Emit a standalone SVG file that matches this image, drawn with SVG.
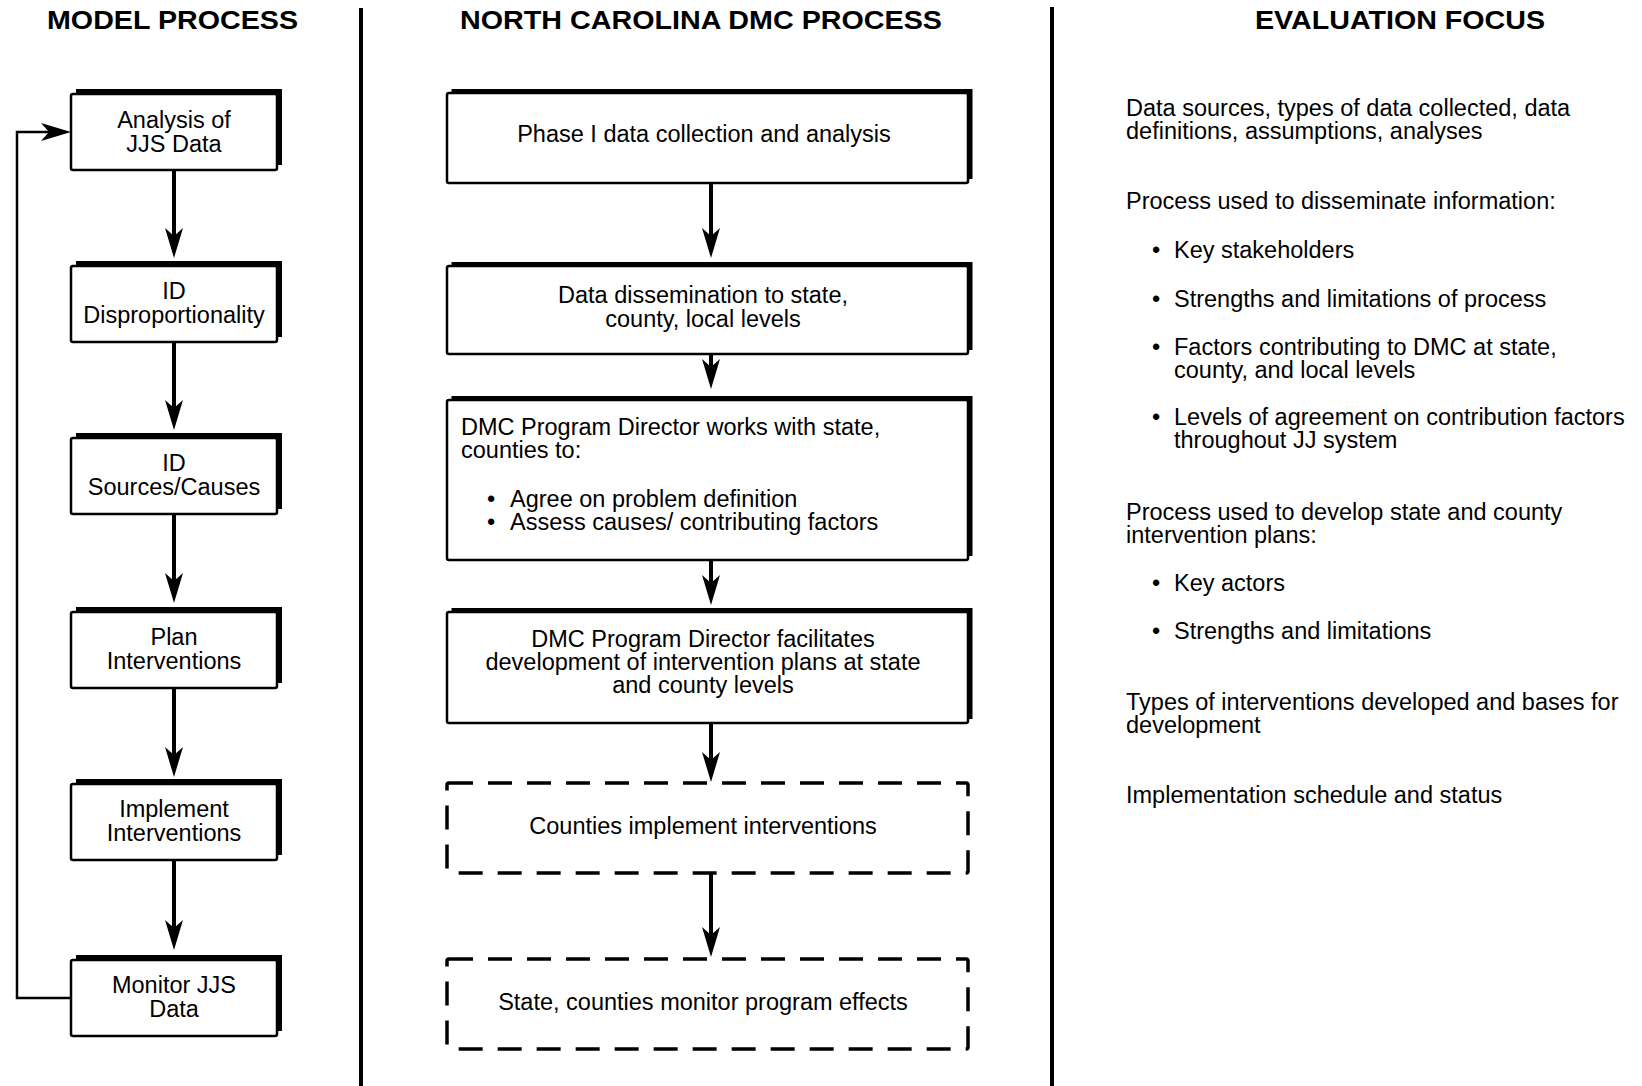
<svg xmlns="http://www.w3.org/2000/svg" width="1642" height="1086" viewBox="0 0 1642 1086">
<style>
  text { font-family: "Liberation Sans", Arial, sans-serif; fill: #000; }
  .hdr { font-size: 25px; font-weight: bold; text-anchor: middle; }
  .t { font-size: 23.5px; }
  .c { text-anchor: middle; }
  .shadow { fill: #000; }
  .box { fill: #fff; stroke: #000; stroke-width: 2.5; }
  .dash { fill: #fff; stroke: #000; stroke-width: 3.5; stroke-dasharray: 24 15; }
  .conn { stroke: #000; stroke-width: 4; fill: none; }
  .fb { stroke: #000; stroke-width: 2.5; fill: none; }
  .div { stroke: #000; stroke-width: 4; }
</style>
<defs>
  <marker id="ah" markerUnits="userSpaceOnUse" viewBox="-30 -10 40 20" markerWidth="40" markerHeight="20" refX="0" refY="0" orient="auto">
    <path d="M8,0 L-22,-9 L-14,0 L-22,9 Z" fill="#000"/>
  </marker>
</defs>
<rect width="1642" height="1086" fill="#fff"/>

<!-- headers and dividers -->
<g id="headers">
  <text class="hdr" x="172.5" y="29" textLength="251" lengthAdjust="spacingAndGlyphs">MODEL PROCESS</text>
  <text class="hdr" x="701" y="29" textLength="482" lengthAdjust="spacingAndGlyphs">NORTH CAROLINA DMC PROCESS</text>
  <text class="hdr" x="1400" y="29" textLength="290" lengthAdjust="spacingAndGlyphs">EVALUATION FOCUS</text>
</g>
<g id="dividers">
  <line class="div" x1="361" y1="8" x2="361" y2="1086"/>
  <line class="div" x1="1052" y1="7" x2="1052" y2="1086"/>
</g>

<!-- Model process column -->
<g id="m1">
  <rect class="shadow" x="76" y="89" width="206" height="76"/>
  <rect class="box" x="71" y="94" width="206" height="76" rx="2"/>
  <text class="t c" x="174" y="128">Analysis of</text>
  <text class="t c" x="174" y="152">JJS Data</text>
</g>
<g id="m2">
  <rect class="shadow" x="76" y="261" width="206" height="76"/>
  <rect class="box" x="71" y="266" width="206" height="76" rx="2"/>
  <text class="t c" x="174" y="299">ID</text>
  <text class="t c" x="174" y="323">Disproportionality</text>
</g>
<g id="m3">
  <rect class="shadow" x="76" y="433" width="206" height="76"/>
  <rect class="box" x="71" y="438" width="206" height="76" rx="2"/>
  <text class="t c" x="174" y="471">ID</text>
  <text class="t c" x="174" y="495">Sources/Causes</text>
</g>
<g id="m4">
  <rect class="shadow" x="76" y="607" width="206" height="76"/>
  <rect class="box" x="71" y="612" width="206" height="76" rx="2"/>
  <text class="t c" x="174" y="645">Plan</text>
  <text class="t c" x="174" y="669">Interventions</text>
</g>
<g id="m5">
  <rect class="shadow" x="76" y="779" width="206" height="76"/>
  <rect class="box" x="71" y="784" width="206" height="76" rx="2"/>
  <text class="t c" x="174" y="817">Implement</text>
  <text class="t c" x="174" y="841">Interventions</text>
</g>
<g id="m6">
  <rect class="shadow" x="76" y="955" width="206" height="76"/>
  <rect class="box" x="71" y="960" width="206" height="76" rx="2"/>
  <text class="t c" x="174" y="993">Monitor JJS</text>
  <text class="t c" x="174" y="1017">Data</text>
</g>

<!-- NC DMC process column -->
<g id="n1">
  <rect class="shadow" x="451.5" y="89" width="521" height="90"/>
  <rect class="box" x="447" y="93" width="521" height="90" rx="2"/>
  <text class="t c" x="704" y="142">Phase I data collection and analysis</text>
</g>
<g id="n2">
  <rect class="shadow" x="451.5" y="262" width="521" height="88"/>
  <rect class="box" x="447" y="266" width="521" height="88" rx="2"/>
  <text class="t c" x="703" y="303">Data dissemination to state,</text>
  <text class="t c" x="703" y="327">county, local levels</text>
</g>
<g id="n3">
  <rect class="shadow" x="451.5" y="396" width="521" height="160"/>
  <rect class="box" x="447" y="400" width="521" height="160" rx="2"/>
  <text class="t" x="461" y="435">DMC Program Director works with state,</text>
  <text class="t" x="461" y="458">counties to:</text>
  <text class="t" x="487" y="507">•</text>
  <text class="t" x="510" y="507">Agree on problem definition</text>
  <text class="t" x="487" y="530">•</text>
  <text class="t" x="510" y="530">Assess causes/ contributing factors</text>
</g>
<g id="n4">
  <rect class="shadow" x="451.5" y="608" width="521" height="111"/>
  <rect class="box" x="447" y="612" width="521" height="111" rx="2"/>
  <text class="t c" x="703" y="647">DMC Program Director facilitates</text>
  <text class="t c" x="703" y="670">development of intervention plans at state</text>
  <text class="t c" x="703" y="693">and county levels</text>
</g>
<g id="n5">
  <rect class="dash" x="447" y="783" width="521" height="90" rx="2"/>
  <text class="t c" x="703" y="834">Counties implement interventions</text>
</g>
<g id="n6">
  <rect class="dash" x="447" y="959" width="521" height="90" rx="2"/>
  <text class="t c" x="703" y="1010">State, counties monitor program effects</text>
</g>

<!-- connectors -->
<g id="connectors">
  <line class="conn" x1="174" y1="170" x2="174" y2="250" marker-end="url(#ah)"/>
  <line class="conn" x1="174" y1="342" x2="174" y2="422" marker-end="url(#ah)"/>
  <line class="conn" x1="174" y1="514" x2="174" y2="595" marker-end="url(#ah)"/>
  <line class="conn" x1="174" y1="688" x2="174" y2="769" marker-end="url(#ah)"/>
  <line class="conn" x1="174" y1="860" x2="174" y2="942" marker-end="url(#ah)"/>
  <path class="fb" d="M71,998 L17,998 L17,132 L63,132" marker-end="url(#ah)"/>
  <line class="conn" x1="711" y1="183" x2="711" y2="250" marker-end="url(#ah)"/>
  <line class="conn" x1="711" y1="354" x2="711" y2="381" marker-end="url(#ah)"/>
  <line class="conn" x1="711" y1="560" x2="711" y2="597" marker-end="url(#ah)"/>
  <line class="conn" x1="711" y1="723" x2="711" y2="774" marker-end="url(#ah)"/>
  <line class="conn" x1="711" y1="873" x2="711" y2="949" marker-end="url(#ah)"/>
</g>

<!-- Evaluation focus column -->
<g id="focus">
  <text class="t" x="1126" y="116">Data sources, types of data collected, data</text>
  <text class="t" x="1126" y="139">definitions, assumptions, analyses</text>
  <text class="t" x="1126" y="209">Process used to disseminate information:</text>
  <text class="t" x="1152" y="258">•</text>
  <text class="t" x="1174" y="258">Key stakeholders</text>
  <text class="t" x="1152" y="307">•</text>
  <text class="t" x="1174" y="307">Strengths and limitations of process</text>
  <text class="t" x="1152" y="355">•</text>
  <text class="t" x="1174" y="355">Factors contributing to DMC at state,</text>
  <text class="t" x="1174" y="378">county, and local levels</text>
  <text class="t" x="1152" y="425">•</text>
  <text class="t" x="1174" y="425">Levels of agreement on contribution factors</text>
  <text class="t" x="1174" y="448">throughout JJ system</text>
  <text class="t" x="1126" y="520">Process used to develop state and county</text>
  <text class="t" x="1126" y="543">intervention plans:</text>
  <text class="t" x="1152" y="591">•</text>
  <text class="t" x="1174" y="591">Key actors</text>
  <text class="t" x="1152" y="639">•</text>
  <text class="t" x="1174" y="639">Strengths and limitations</text>
  <text class="t" x="1126" y="710">Types of interventions developed and bases for</text>
  <text class="t" x="1126" y="733">development</text>
  <text class="t" x="1126" y="803">Implementation schedule and status</text>
</g>
</svg>
